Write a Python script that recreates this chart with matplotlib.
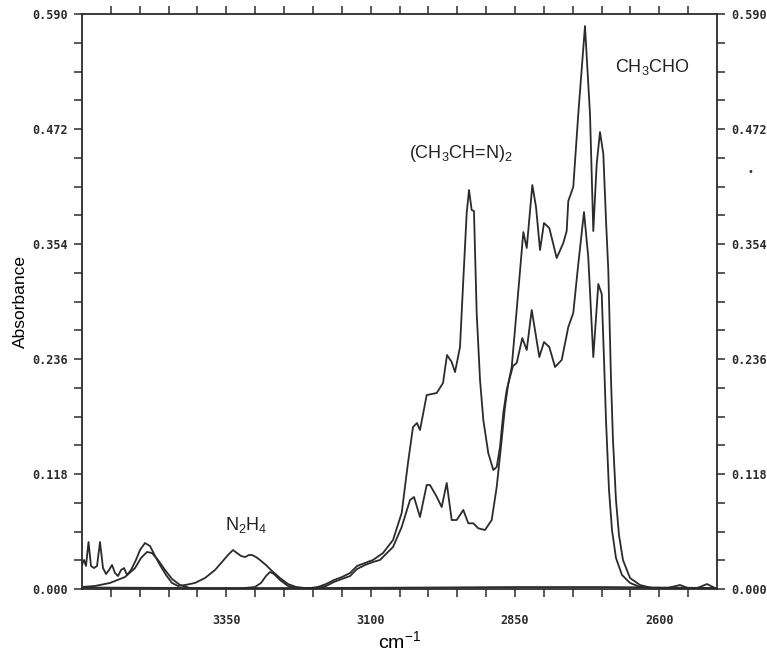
import matplotlib
matplotlib.use("Agg")
import matplotlib.pyplot as plt
import numpy as np

# ---------------- data ----------------
# spectrum 1: strong (CH3CH=N)2 band near 2930 cm-1
wn_1 = [3600, 3596.5, 3593.1, 3588.7, 3584.4, 3579.2, 3574.0, 3568.8, 3563.6, 3558.4,
        3553.2, 3548.0, 3542.8, 3537.6, 3532.4, 3527.2, 3522.0, 3515.1, 3506.5, 3499.5,
        3490.9, 3482.2, 3473.5, 3464.9, 3454.5, 3444.1, 3433.7, 3421.6, 3404.2, 3386.9,
        3369.6, 3357.5, 3347.1, 3338.4, 3331.5, 3324.6, 3317.6, 3310.7, 3305.5, 3298.6,
        3291.7, 3281.3, 3270.9, 3257.0, 3243.1, 3229.3, 3213.7, 3205.0, 3191.2, 3177.3,
        3163.5, 3149.6, 3135.7, 3123.6, 3109.8, 3095.9, 3078.6, 3061.2, 3046.2, 3035.3,
        3026.6, 3019.7, 3014.5, 3002.9, 2985.6, 2974.6, 2967.7, 2959.6, 2953.8, 2945.2,
        2939.5, 2933.6, 2929.6, 2925.0, 2921.0, 2916.3, 2910.5, 2904.8, 2896.2, 2887.5,
        2881.6, 2875.9, 2870.2, 2864.3, 2858.6, 2853.4, 2847.0, 2837.3, 2829.6, 2821.0,
        2815.3, 2807.8, 2799.7, 2790.5, 2780.6, 2769.0, 2757.6, 2749.0, 2740.3, 2730.4,
        2723.0, 2714.3, 2705.6, 2699.7, 2695.7, 2692.3, 2687.1, 2681.9, 2675.0, 2664.6,
        2650.7, 2633.4, 2616.1, 2590.0, 2560.0, 2530.0, 2500.0]
abs_1 = [0.0246, 0.0298, 0.0236, 0.0482, 0.0236, 0.0215, 0.0236, 0.0482, 0.0215, 0.0154,
         0.0195, 0.0246, 0.0164, 0.0133, 0.0195, 0.0215, 0.0144, 0.0195, 0.0298, 0.0400,
         0.0472, 0.0441, 0.0339, 0.0246, 0.0144, 0.0062, 0.0031, 0.0041, 0.0062, 0.0113,
         0.0195, 0.0277, 0.0349, 0.0400, 0.0369, 0.0339, 0.0328, 0.0349, 0.0349, 0.0328,
         0.0298, 0.0246, 0.0185, 0.0113, 0.0051, 0.0021, 0.0010, 0.0010, 0.0021, 0.0051,
         0.0092, 0.0123, 0.0164, 0.0236, 0.0267, 0.0298, 0.0369, 0.0503, 0.0780, 0.1293,
         0.1662, 0.1703, 0.1631, 0.1990, 0.2011, 0.2114, 0.2401, 0.2329, 0.2226, 0.2483,
         0.3170, 0.3858, 0.4094, 0.3889, 0.3878, 0.2832, 0.2144, 0.1734, 0.1395, 0.1221,
         0.1252, 0.1457, 0.1806, 0.2042, 0.2175, 0.2288, 0.2319, 0.2575, 0.2452, 0.2863,
         0.2657, 0.2380, 0.2534, 0.2483, 0.2278, 0.2350, 0.2688, 0.2832, 0.3335, 0.3868,
         0.3406, 0.2380, 0.3129, 0.3027, 0.2350, 0.1734, 0.1016, 0.0605, 0.0318, 0.0144,
         0.0062, 0.0021, 0.0010, 0.0010, 0.0005, 0.0010, 0.0005]

# spectrum 2: strong CH3CHO bands near 2730 cm-1
wn_2 = [3600, 3577.5, 3551.5, 3525.5, 3508.2, 3497.8, 3487.4, 3478.7, 3468.4, 3456.2,
        3444.1, 3430.2, 3412.9, 3378.3, 3326.3, 3300.3, 3289.9, 3281.3, 3274.4, 3267.4,
        3257.0, 3243.1, 3222.4, 3205.0, 3191.2, 3177.3, 3163.5, 3149.6, 3135.7, 3123.6,
        3109.8, 3095.9, 3083.8, 3061.2, 3046.2, 3031.8, 3024.9, 3014.5, 3002.9, 2997.2,
        2985.6, 2976.9, 2968.2, 2959.6, 2950.9, 2939.5, 2930.8, 2922.2, 2913.5, 2901.9,
        2890.3, 2881.6, 2873.0, 2867.3, 2862.0, 2855.6, 2847.0, 2835.5, 2829.6, 2819.9,
        2813.5, 2806.6, 2799.7, 2790.5, 2777.7, 2766.3, 2760.4, 2757.6, 2749.0, 2740.3,
        2728.7, 2720.0, 2714.3, 2708.4, 2702.7, 2696.9, 2692.3, 2688.3, 2683.6, 2680.2,
        2675.0, 2669.8, 2662.9, 2650.7, 2633.4, 2612.6, 2590.1, 2578.0, 2564.1, 2550.3,
        2538.2, 2529.5, 2517.4, 2507.0, 2500.0]
abs_2 = [0.0021, 0.0031, 0.0062, 0.0123, 0.0215, 0.0318, 0.0380, 0.0369, 0.0298, 0.0195,
         0.0103, 0.0041, 0.0010, 0.0005, 0.0005, 0.0021, 0.0062, 0.0133, 0.0174, 0.0154,
         0.0092, 0.0031, 0.0005, 0.0005, 0.0010, 0.0031, 0.0072, 0.0103, 0.0133, 0.0205,
         0.0246, 0.0277, 0.0298, 0.0431, 0.0636, 0.0913, 0.0944, 0.0739, 0.1067, 0.1067,
         0.0947, 0.0841, 0.1088, 0.0708, 0.0708, 0.0811, 0.0674, 0.0674, 0.0623, 0.0605,
         0.0708, 0.1047, 0.1529, 0.1867, 0.2093, 0.2278, 0.2863, 0.3663, 0.3499, 0.4145,
         0.3919, 0.3478, 0.3755, 0.3704, 0.3396, 0.3550, 0.3673, 0.3981, 0.4125, 0.4874,
         0.5776, 0.4874, 0.3673, 0.4361, 0.4689, 0.4463, 0.3786, 0.3273, 0.2144, 0.1529,
         0.0913, 0.0554, 0.0298, 0.0113, 0.0041, 0.0010, 0.0005, 0.0021, 0.0041, 0.0010,
         0.0005, 0.0021, 0.0051, 0.0021, 0.0000]

# baseline trace
wn_3 = [3600, 3400, 3200, 3000, 2850, 2700, 2500]
abs_3 = [0.0015, 0.0010, 0.0010, 0.0015, 0.0020, 0.0020, 0.0010]

y_ticks = [0.000, 0.118, 0.236, 0.354, 0.472, 0.590]
y_ticklabels = ["0.000", "0.118", "0.236", "0.354", "0.472", "0.590"]
x_ticks = [3350, 3100, 2850, 2600]

labels = [("N$_2$H$_4$", 3315.9, 0.0657),
          ("(CH$_3$CH=N)$_2$", 2943.5, 0.4473),
          ("CH$_3$CHO", 2612.6, 0.5356)]

# ---------------- plotting ----------------
plt.rcParams["mathtext.fontset"] = "custom"
plt.rcParams["mathtext.rm"] = "Liberation Sans"
plt.rcParams["mathtext.it"] = "Liberation Sans:italic"
plt.rcParams["mathtext.bf"] = "Liberation Sans:bold"

fig = plt.figure(figsize=(7.67, 6.51), dpi=100)
ax = fig.add_axes([82 / 767, 62 / 651, 635 / 767, 575 / 651])

col = "#2b2b2b"
for wn, ab in ((wn_3, abs_3), (wn_2, abs_2), (wn_1, abs_1)):
    ax.plot(wn, ab, color=col, lw=1.3, solid_joinstyle="round")

ax.set_xlim(3600, 2500)
ax.set_ylim(0, 0.590)

for s in ax.spines.values():
    s.set_color(col)
    s.set_linewidth(1.3)

ax.set_yticks(y_ticks)
ax.set_yticklabels(y_ticklabels)
ax.set_yticks(np.arange(0, 0.5901, 0.0295), minor=True)
ax.set_xticks(x_ticks)
ax.set_xticks(np.arange(2550, 3600, 50), minor=True)

ax.tick_params(axis="both", which="both", direction="out", length=6, width=1.1,
               color=col, labelsize=8.5, labelcolor=col,
               labelfontfamily="DejaVu Sans Mono")
ax.tick_params(axis="y", which="both", left=True, right=True,
               labelleft=True, labelright=True, pad=4)
ax.tick_params(axis="x", which="both", bottom=True, top=True,
               labelbottom=True, labeltop=False, pad=12)

for t in ax.yaxis.get_major_ticks() + ax.xaxis.get_major_ticks():
    t.label1.set_fontweight("bold")
    t.label2.set_fontweight("bold")

ax.set_ylabel("Absorbance", fontfamily="Liberation Sans", fontsize=12.5)
ax.yaxis.set_label_coords(-0.085, 0.5)
ax.set_xlabel("cm$^{-1}$", fontfamily="Liberation Sans", fontsize=14, labelpad=2)

for txt, x, y in labels:
    ax.text(x, y, txt, ha="center", va="center", fontsize=13,
            fontfamily="Liberation Sans", color="#222222")

fig.text(750 / 767, 1 - 172 / 651, "•", fontsize=7, ha="center", va="center",
         color="#333333")

fig.savefig("out.png", dpi=100)
